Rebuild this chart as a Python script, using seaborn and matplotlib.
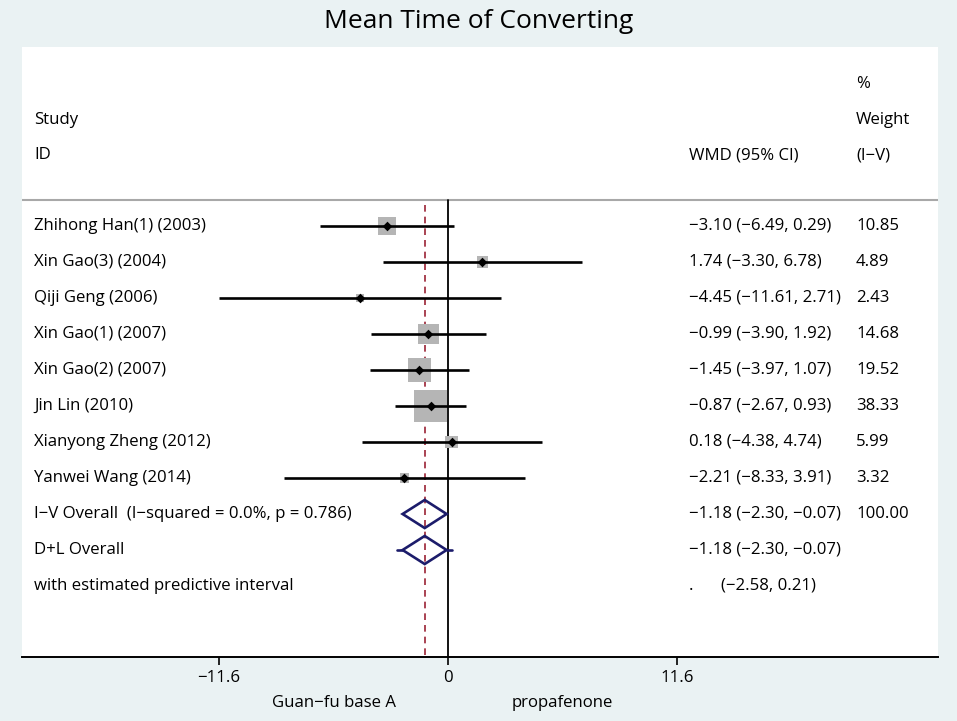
import matplotlib
matplotlib.use("Agg")
import matplotlib.pyplot as plt
import seaborn as sns
import numpy as np
from matplotlib.patches import Polygon
from matplotlib.transforms import blended_transform_factory

# ---- data ----
studies = ["Zhihong Han(1) (2003)", "Xin Gao(3) (2004)", "Qiji Geng (2006)",
           "Xin Gao(1) (2007)", "Xin Gao(2) (2007)", "Jin Lin (2010)",
           "Xianyong Zheng (2012)", "Yanwei Wang (2014)"]
wmd = [-3.10, 1.74, -4.45, -0.99, -1.45, -0.87, 0.18, -2.21]
ci_low = [-6.49, -3.30, -11.61, -3.90, -3.97, -2.67, -4.38, -8.33]
ci_high = [0.29, 6.78, 2.71, 1.92, 1.07, 0.93, 4.74, 3.91]
weights = [10.85, 4.89, 2.43, 14.68, 19.52, 38.33, 5.99, 3.32]

overall_labels = ["I\u2212V Overall  (I\u2212squared = 0.0%, p = 0.786)", "D+L Overall",
                  "with estimated predictive interval"]
overall_est = -1.18
overall_low = -2.30
overall_high = -0.07
overall_weight = 100.00
pred_low = -2.58
pred_high = 0.21

xticks = [-11.6, 0, 11.6]
xtick_labels = ["\u221211.6", "0", "11.6"]

title = "Mean Time of Converting"
left_label = "Guan\u2212fu base A"
right_label = "propafenone"


def fmt(v):
    return f"{v:.2f}".replace("-", "\u2212")


# ---- styling ----
sns.set_theme(style="white")
plt.rcParams["font.family"] = ["Open Sans", "DejaVu Sans"]
plt.rcParams["text.color"] = "black"
BG = "#eaf2f3"

fig = plt.figure(figsize=(9.57, 7.21), dpi=100, facecolor=BG)
W, H = 957, 721
px_left, px_right, px_top, px_bottom = 22, 938, 47, 657
ax = fig.add_axes([px_left / W, 1 - px_bottom / H, (px_right - px_left) / W,
                   (px_bottom - px_top) / H])
ax.set_facecolor("white")

x_zero_px = 448
px_per_unit = (677 - 219) / 23.2
xmin = (px_left - x_zero_px) / px_per_unit
xmax = (px_right - x_zero_px) / px_per_unit
ax.set_xlim(xmin, xmax)
row_px = 36.0
row0_px = 226
ax.set_ylim((px_bottom - row0_px) / row_px, (px_top - row0_px) / row_px)

n = len(studies)
rows = np.arange(n)

fs = 12.1
sep_y = (200 - row0_px) / row_px
ax.axhline(sep_y, color="#a8a8a8", lw=1.5, zorder=1)
ax.plot([0, 0], [sep_y, ax.get_ylim()[0]], color="black", lw=1.3, zorder=2)
ax.plot([overall_est, overall_est], [sep_y + 0.15, ax.get_ylim()[0]],
        color="#9b2335", lw=1.2, ls=(0, (4, 3)), zorder=2)

# boxes
box_scale = 14.5
sns.scatterplot(x=wmd, y=rows, s=[w * box_scale for w in weights], marker="s",
                color="#b5b5b5", linewidth=0, ax=ax, zorder=3, legend=False)
ax.hlines(rows, ci_low, ci_high, color="black", lw=1.9, zorder=4)
sns.scatterplot(x=wmd, y=rows, s=24, marker="D", color="black", linewidth=0,
                ax=ax, zorder=5, legend=False)

# diamonds
dh = 0.39
navy = "#1c1c6b"
for r in [n, n + 1]:
    poly = Polygon([[overall_low, r], [overall_est, r - dh], [overall_high, r],
                    [overall_est, r + dh]], closed=True, fill=False,
                   edgecolor=navy, lw=1.9, zorder=6)
    ax.add_patch(poly)
ax.plot([pred_low, overall_low], [n + 1, n + 1], color=navy, lw=1.9, zorder=6)
ax.plot([overall_high, pred_high], [n + 1, n + 1], color=navy, lw=1.9, zorder=6)

# text columns
x_study = (34 - x_zero_px) / px_per_unit
x_ci = (689 - x_zero_px) / px_per_unit
x_w = (856 - x_zero_px) / px_per_unit
x_pi = (721 - x_zero_px) / px_per_unit
hdr = lambda p: (p - row0_px) / row_px

ax.text(x_w, hdr(84), "%", fontsize=fs, va="center", ha="left")
ax.text(x_study, hdr(120), "Study", fontsize=fs, va="center", ha="left")
ax.text(x_w, hdr(120), "Weight", fontsize=fs, va="center", ha="left")
ax.text(x_study, hdr(155), "ID", fontsize=fs, va="center", ha="left")
ax.text(x_ci, hdr(155), "WMD (95% CI)", fontsize=fs, va="center", ha="left")
ax.text(x_w, hdr(155), "(I\u2212V)", fontsize=fs, va="center", ha="left")

for i in range(n):
    ax.text(x_study, i, studies[i], fontsize=fs, va="center", ha="left")
    ax.text(x_ci, i, f"{fmt(wmd[i])} ({fmt(ci_low[i])}, {fmt(ci_high[i])})",
            fontsize=fs, va="center", ha="left")
    ax.text(x_w, i, f"{weights[i]:.2f}", fontsize=fs, va="center", ha="left")

for j, lab in enumerate(overall_labels):
    ax.text(x_study, n + j, lab, fontsize=fs, va="center", ha="left")
ov_txt = f"{fmt(overall_est)} ({fmt(overall_low)}, {fmt(overall_high)})"
ax.text(x_ci, n, ov_txt, fontsize=fs, va="center", ha="left")
ax.text(x_w, n, f"{overall_weight:.2f}", fontsize=fs, va="center", ha="left")
ax.text(x_ci, n + 1, ov_txt, fontsize=fs, va="center", ha="left")
ax.text(x_ci, n + 2, ".", fontsize=fs, va="center", ha="left")
ax.text(x_pi, n + 2, f"({fmt(pred_low)}, {fmt(pred_high)})", fontsize=fs,
        va="center", ha="left")

# axes styling
for s in ["top", "left", "right"]:
    ax.spines[s].set_visible(False)
ax.spines["bottom"].set_color("black")
ax.spines["bottom"].set_linewidth(1.4)
ax.set_yticks([])
ax.set_xticks(xticks)
ax.set_xticklabels(xtick_labels, fontsize=fs)
ax.tick_params(axis="x", direction="out", length=6, width=1.2, color="black",
               pad=3, bottom=True, labelcolor="black")

tr = blended_transform_factory(ax.transData, fig.transFigure)
ax.text(-5.8, 1 - 703 / H, left_label, transform=tr, fontsize=fs, ha="center",
        va="center")
ax.text(5.8, 1 - 703 / H, right_label, transform=tr, fontsize=fs, ha="center",
        va="center")

fig.text(0.5, 1 - 21 / H, title, fontsize=19, ha="center", va="center")

fig.savefig("out.png", dpi=100, facecolor=BG)
